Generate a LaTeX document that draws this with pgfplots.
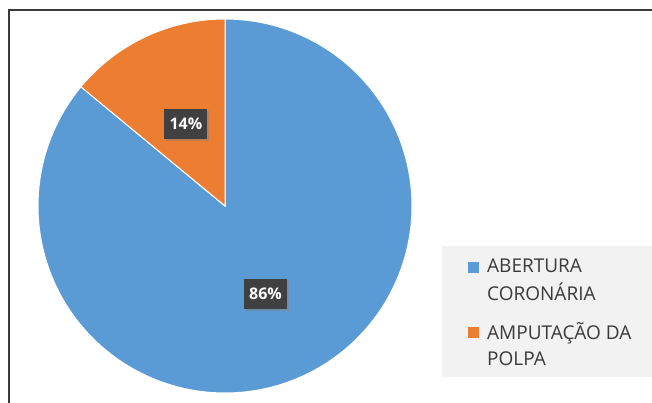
\documentclass[border=0pt]{standalone}
\usepackage{pgfplots}
\usepackage{pgfplotstable}
\pgfplotsset{compat=1.18}
\usepackage{fontspec}
\setmainfont{Open Sans}
\usetikzlibrary{shadows}
\definecolor{cblue}{HTML}{5B9BD5}
\definecolor{corange}{HTML}{ED7D31}
\definecolor{lbl}{HTML}{404040}
\definecolor{frm}{HTML}{3A3A3A}
\definecolor{legbg}{HTML}{F2F2F2}
\definecolor{legtxt}{HTML}{3A3A3A}
\pgfplotstableread{
share
86
14
}\piedata
\pgfplotstablegetelem{0}{share}\of\piedata \let\vA\pgfplotsretval
\pgfplotstablegetelem{1}{share}\of\piedata \let\vB\pgfplotsretval
\pgfmathsetmacro\angB{90+3.6*\vB}
\begin{document}
\begin{tikzpicture}
\useasboundingbox (0,0) rectangle (652pt,403pt);
\draw[frm, line width=2pt] (8.5pt,0) -- (8.5pt,392.5pt) -- (652pt,392.5pt);
\begin{axis}[at={(225pt,197pt)}, anchor=center, width=374pt, height=374pt,
  scale only axis, xmin=-1, xmax=1, ymin=-1, ymax=1, hide axis, clip=false]
\addplot[fill=cblue, draw=white, line width=1pt, domain=\angB:450, samples=240, variable=\t]
  ({cos(t)},{sin(t)}) -- (axis cs:0,0) -- cycle;
\addplot[fill=corange, draw=white, line width=1pt, domain=90:\angB, samples=60, variable=\t]
  ({cos(t)},{sin(t)}) -- (axis cs:0,0) -- cycle;
\node[fill=lbl, text=white, font=\fontsize{16}{18}\bfseries\selectfont, minimum width=43pt, minimum height=30pt, inner sep=0pt,
  drop shadow={opacity=0.45, shadow xshift=2pt, shadow yshift=-2pt}] at (axis cs:-0.209,0.4385) {\vB\%};
\node[fill=lbl, text=white, font=\fontsize{16}{18}\bfseries\selectfont, minimum width=43pt, minimum height=30pt, inner sep=0pt,
  drop shadow={opacity=0.45, shadow xshift=2pt, shadow yshift=-2pt}] at (axis cs:0.2166,-0.4706) {\vA\%};
\end{axis}
\fill[legbg] (442pt,26pt) rectangle (652pt,157pt);
\fill[cblue] (468pt,130pt) rectangle (479pt,141pt);
\fill[corange] (468pt,65pt) rectangle (479pt,76pt);
\begin{scope}[every node/.style={anchor=base west, inner sep=0pt, text=legtxt, font=\fontsize{19}{22}\selectfont}]
\node at (487pt,130pt) {ABERTURA};
\node at (487pt,102pt) {CORONÁRIA};
\node at (487pt,63pt) {AMPUTAÇÃO DA};
\node at (487pt,37pt) {POLPA};
\end{scope}
\end{tikzpicture}
\end{document}
